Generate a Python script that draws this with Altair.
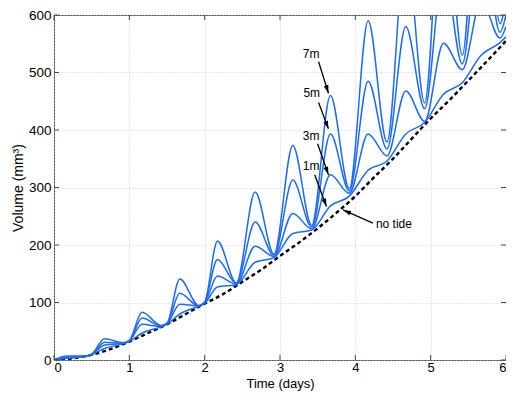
import math
import altair as alt
import pandas as pd

# ---------------- data ----------------
# no-tide reference curve (days, mm^3)
notide_t = [0, 0.25, 0.5, 0.75, 1.0, 1.25, 1.5, 1.75, 2.0, 2.25, 2.5, 2.75, 3.0,
            3.25, 3.5, 3.75, 4.0, 4.25, 4.5, 4.75, 5.0, 5.25, 5.5, 5.75, 6.0]
notide_v = [0, 3, 9, 19, 32, 47, 62, 80, 98, 115, 136, 157, 181,
            204, 229, 256, 285, 318, 350, 385, 420, 452, 486, 520, 555]

# key times of the tidal curves (peaks / troughs / knees)
key_t = [0, 0.17, 0.42, 0.5, 0.67, 0.92, 1.0, 1.17, 1.42, 1.5, 1.67, 1.92, 2.0,
         2.17, 2.42, 2.67, 2.92, 3.17, 3.42, 3.67, 3.92, 4.17, 4.42, 4.67, 4.92,
         5.17, 5.42, 5.67, 5.92, 6.0]
tide_7m = [0, 7, 7, 10, 37, 30, 34, 83, 60, 64, 141, 95, 101,
           207, 134, 292, 184, 373, 234, 460, 298, 590, 379, 720, 447,
           850, 530, 950, 585, 630]
tide_5m = [0, 5, 6.5, 9.5, 31, 29, 33, 73, 59, 63, 116, 94, 100,
           175, 133, 240, 182, 313, 231, 393, 294, 485, 367, 580, 437,
           680, 515, 770, 570, 600]
tide_3m = [0, 4, 6.5, 9.5, 26, 29, 33, 62, 58, 63, 97, 94, 99,
           146, 132, 198, 180, 255, 228, 322, 290, 393, 355, 468, 415,
           551, 505, 625, 560, 580]
tide_1m = [0, 3, 6.5, 9.5, 20, 28.5, 32.5, 47, 57.5, 62.5, 80, 93.5, 98.5,
           127, 131, 170, 178, 220, 226, 268, 285, 330, 346, 393, 413,
           462, 482, 530, 552, 562]

# annotations: label, text anchor (t, v), arrow start (t, v), arrow tip (t, v)
ann_label = ["7m", "5m", "3m", "1m", "no tide"]
ann_tx = [3.414, 3.421, 3.414, 3.414, 4.273]
ann_ty = [533, 464, 390, 337, 236]
ann_x0 = [3.512, 3.512, 3.499, 3.46, 4.233]
ann_y0 = [519, 448, 376, 322, 238]
ann_x1 = [3.643, 3.643, 3.643, 3.617, 3.836]
ann_y1 = [464, 402, 322, 267, 261]
ann_align = ["center", "center", "center", "center", "left"]

x_ticks = [0, 1, 2, 3, 4, 5, 6]
y_ticks = [0, 100, 200, 300, 400, 500, 600]

# ---------------- chart ----------------
W, H = 452, 345
FONT = "Liberation Sans"
BLUE = "#1f6cf2"

rows = []
for name, vals in [("7m", tide_7m), ("5m", tide_5m), ("3m", tide_3m), ("1m", tide_1m)]:
    for t, v in zip(key_t, vals):
        rows.append({"series": name, "t": t, "v": v})
tide_df = pd.DataFrame(rows)
notide_df = pd.DataFrame({"t": notide_t, "v": notide_v})

ann_df = pd.DataFrame({
    "label": ann_label, "tx": ann_tx, "ty": ann_ty,
    "x0": ann_x0, "y0": ann_y0, "x1": ann_x1, "y1": ann_y1, "align": ann_align,
})
ang = []
for a, b, c, d in zip(ann_x0, ann_y0, ann_x1, ann_y1):
    dx = (c - a) * W / 6.0
    dy = -(d - b) * H / 600.0
    ang.append(math.degrees(math.atan2(dx, -dy)) % 360)
ann_df["ang"] = ang

xs = alt.Scale(domain=[0, 6], nice=False, zero=False)
ys = alt.Scale(domain=[0, 600], nice=False)

x_axis = alt.Axis(values=x_ticks, title="Time (days)", grid=True, ticks=False,
                  tickSize=0, domain=False, labelPadding=1, format="d",
                  labelFontSize=13, titleFontSize=13,
                  titleX=W / 2, titleY=27, titleBaseline="alphabetic",
                  titleAlign="center")
y_axis = alt.Axis(values=y_ticks, title="Volume (mm³)", grid=True, ticks=False,
                  tickSize=0, domain=False, labelPadding=3, titleX=-36, titleY=H / 2,
                  labelFontSize=13.5, titleFontSize=14,
                  titleBaseline="middle", titleAlign="center", titleAngle=270,
                  format="d")

notide = alt.Chart(notide_df).mark_line(
    color="black", strokeWidth=2.4, strokeDash=[4, 3], interpolate="monotone", clip=True
).encode(x=alt.X("t:Q", scale=xs, axis=x_axis), y=alt.Y("v:Q", scale=ys, axis=y_axis))

tide = alt.Chart(tide_df).mark_line(
    color=BLUE, strokeWidth=1.5, interpolate="monotone", clip=True
).encode(x=alt.X("t:Q", scale=xs), y=alt.Y("v:Q", scale=ys), detail="series:N")

xt_df = pd.DataFrame({"t": x_ticks})
yt_df = pd.DataFrame({"v": y_ticks})
TK = 5
tick_color = "#444444"
xt_bot = alt.Chart(xt_df).mark_rule(color=tick_color, strokeWidth=1).encode(
    x=alt.X("t:Q", scale=xs), y=alt.value(H), y2=alt.value(H - TK))
xt_top = alt.Chart(xt_df).mark_rule(color=tick_color, strokeWidth=1).encode(
    x=alt.X("t:Q", scale=xs), y=alt.value(0), y2=alt.value(TK))
yt_left = alt.Chart(yt_df).mark_rule(color=tick_color, strokeWidth=1).encode(
    y=alt.Y("v:Q", scale=ys), x=alt.value(0), x2=alt.value(TK))
yt_right = alt.Chart(yt_df).mark_rule(color=tick_color, strokeWidth=1).encode(
    y=alt.Y("v:Q", scale=ys), x=alt.value(W), x2=alt.value(W - TK))

arrows = alt.Chart(ann_df).mark_rule(color="black", strokeWidth=1.3).encode(
    x=alt.X("x0:Q", scale=xs), y=alt.Y("y0:Q", scale=ys),
    x2="x1:Q", y2="y1:Q")
heads = alt.Chart(ann_df).mark_point(
    shape="M0,0L0.6,2L-0.6,2Z", filled=True, color="black", opacity=1, size=64
).encode(x=alt.X("x1:Q", scale=xs), y=alt.Y("y1:Q", scale=ys),
         angle=alt.Angle("ang:Q", scale=None))
texts_c = alt.Chart(ann_df[ann_df["align"] == "center"]).mark_text(
    font=FONT, fontSize=12, color="black", align="center", baseline="middle"
).encode(x=alt.X("tx:Q", scale=xs), y=alt.Y("ty:Q", scale=ys), text="label:N")
texts_l = alt.Chart(ann_df[ann_df["align"] == "left"]).mark_text(
    font=FONT, fontSize=12, color="black", align="left", baseline="middle"
).encode(x=alt.X("tx:Q", scale=xs), y=alt.Y("ty:Q", scale=ys), text="label:N")

chart = alt.layer(
    notide, tide, xt_bot, xt_top, yt_left, yt_right, arrows, heads, texts_c, texts_l
).properties(
    width=W, height=H,
    autosize=alt.AutoSizeParams(type="none"),
    padding={"left": 46, "top": 7, "right": 0, "bottom": 31},
).configure_view(
    stroke="#444444", strokeWidth=1
).configure_axis(
    labelFont=FONT, titleFont=FONT,
    titleFontWeight="normal", labelColor="black", titleColor="black",
    gridColor="#cfcfcf", gridDash=[1, 2], gridWidth=1,
).configure_axisY(
    labelAlign="right", labelBaseline="middle"
)

chart.save("out.html", embed_options={"renderer": "svg", "actions": False})
